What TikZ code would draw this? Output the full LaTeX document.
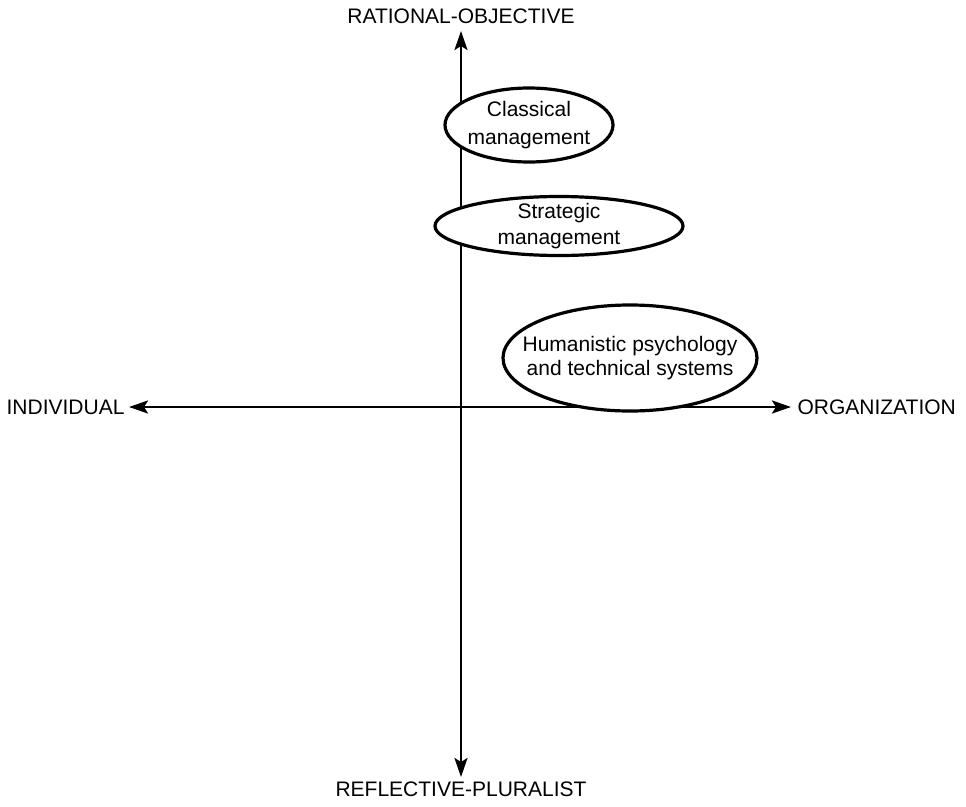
\documentclass[tikz,border=0pt]{standalone}
\usepackage{fontspec}
\setmainfont{Liberation Sans}
\usetikzlibrary{positioning,shapes.geometric,arrows.meta}

\begin{document}
\begin{tikzpicture}[x=1pt, y=-1pt, node distance=4pt,
    every node/.style={font=\fontsize{21}{23}\selectfont},
    axis/.style={line width=2.6pt, {Stealth[length=19pt,width=13pt,inset=4pt]}-{Stealth[length=19pt,width=13pt,inset=4pt]}},
    oval/.style={draw, ellipse, fill=white, line width=3.2pt, inner sep=0pt},
    txt/.style={align=center, inner sep=0pt}]
  \useasboundingbox (0,0) rectangle (966,806);
      \coordinate (N) at (461,31);
      \coordinate (S) at (461,777);
      \coordinate (W) at (129,407);
      \coordinate (E) at (791,407);
      \node (RO) [above=3.5pt of N] {RATIONAL-OBJECTIVE};
      \node (RP) [below=1.5pt of S] {REFLECTIVE-PLURALIST};
      \node (IN) [left=1pt of W] {INDIVIDUAL};
      \node (OR) [right=3pt of E] {ORGANIZATION};
    \draw [axis] (S) -- (N);
    \draw [axis] (W) -- (E);
      \node (cm) [oval, minimum width=168pt, minimum height=74pt] at (529,125) {};
      \node (cmt) [txt, font=\fontsize{21}{28}\selectfont] at (cm) {Classical\\management};
      \node (sm) [oval, minimum width=248pt, minimum height=59pt] at (559,226) {};
      \node (smt) [txt, font=\fontsize{21}{26}\selectfont] at (sm) {Strategic\\management};
      \node (hp) [oval, minimum width=254pt, minimum height=106pt] at (630,358) {};
      \node (hpt) [txt, font=\fontsize{21}{24}\selectfont] at (hp) {Humanistic psychology\\and technical systems};
\end{tikzpicture}
\end{document}
